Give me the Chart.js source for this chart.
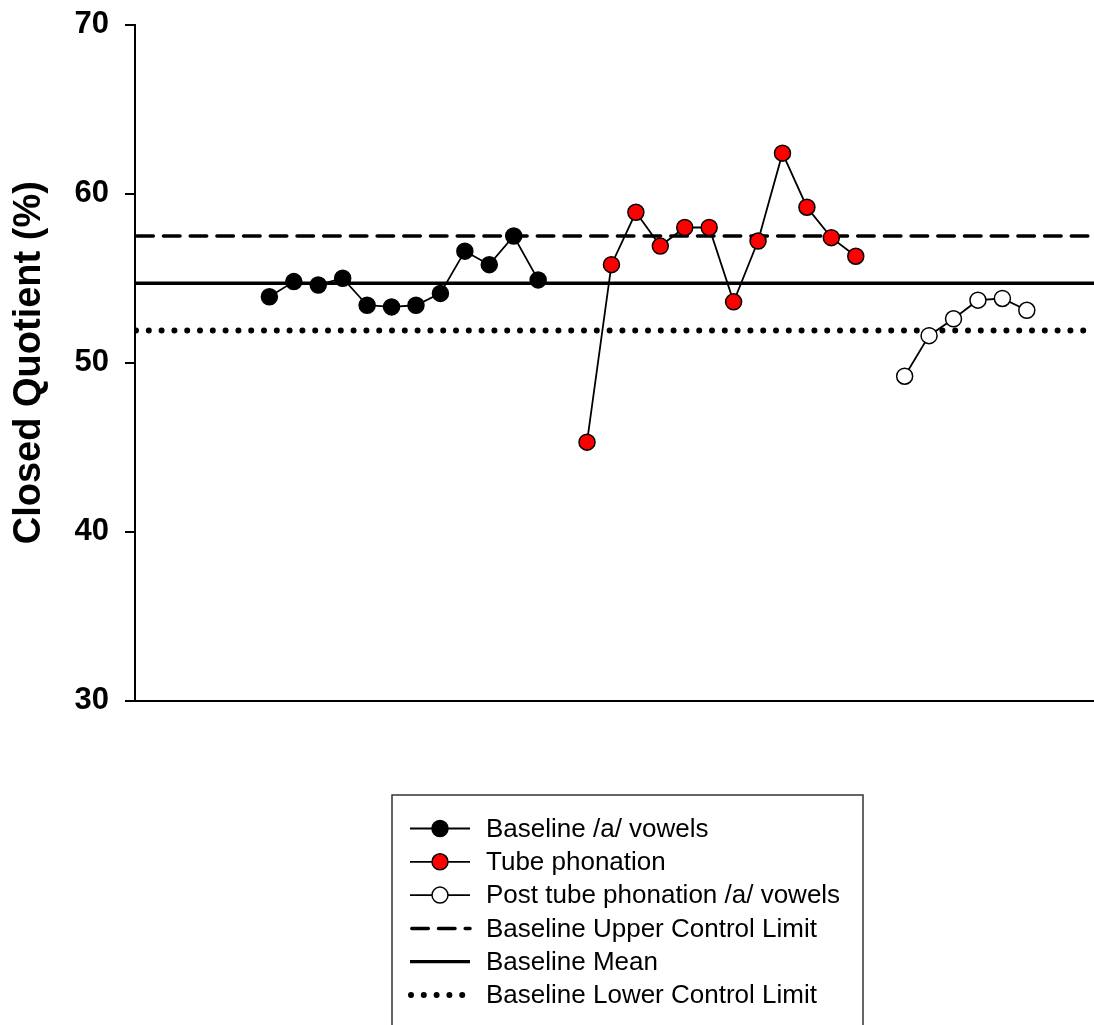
<!DOCTYPE html>
<html>
<head>
<meta charset="utf-8">
<script src="https://cdn.jsdelivr.net/npm/chart.js@4/dist/chart.umd.min.js"></script>
<style>
  html, body { margin: 0; padding: 0; background: #fff; }
  canvas { display: block; }
</style>
</head>
<body>
<canvas id="cq" width="1094" height="1025"></canvas>
<script>
// Session numbers (x) and closed quotient values (%) for each phase
const baselineSessions = [1, 2, 3, 4, 5, 6, 7, 8, 9, 10, 11, 12];
const baselineCQ = [53.9, 54.8, 54.6, 55.0, 53.4, 53.3, 53.4, 54.1, 56.6, 55.8, 57.5, 54.9];

const tubeSessions = [14, 15, 16, 17, 18, 19, 20, 21, 22, 23, 24, 25];
const tubeCQ = [45.3, 55.8, 58.9, 56.9, 58.0, 58.0, 53.6, 57.2, 62.4, 59.2, 57.4, 56.3];

const postSessions = [27, 28, 29, 30, 31, 32];
const postCQ = [49.2, 51.6, 52.6, 53.7, 53.8, 53.1];

// Baseline control statistics
const baselineUpperLimit = 57.5;
const baselineMean = 54.7;
const baselineLowerLimit = 51.9;

// Axis ticks
const yTicks = [30, 40, 50, 60, 70];

const FONT = 'Arial, "Liberation Sans", Helvetica, sans-serif';
const X_MIN = -4.5;
const X_MAX = 34.75;

function pairs(xs, ys) {
  return xs.map((x, i) => ({ x: x, y: ys[i] }));
}
function level(v) {
  return [{ x: X_MIN, y: v }, { x: X_MAX, y: v }];
}

function phaseSeries(label, xs, ys, fill) {
  return {
    label: label,
    data: pairs(xs, ys),
    borderColor: '#000',
    borderWidth: 1.8,
    pointRadius: 8,
    pointHoverRadius: 8,
    pointBorderWidth: 1.5,
    pointBorderColor: '#000',
    pointBackgroundColor: fill,
    tension: 0
  };
}

function limitLine(label, v, width, dash, cap, dashOffset) {
  return {
    label: label,
    data: level(v),
    borderColor: '#000',
    borderWidth: width,
    borderDash: dash,
    borderDashOffset: dashOffset || 0,
    borderCapStyle: cap,
    pointRadius: 0,
    pointHoverRadius: 0,
    tension: 0
  };
}

// Boxed legend below the plot: line sample with marker, then the label
const boxedLegend = {
  id: 'boxedLegend',
  afterDraw(chart) {
    const ctx = chart.ctx;
    const box = { left: 392, top: 795, right: 863, bottom: 1040 };
    ctx.save();
    ctx.strokeStyle = '#333';
    ctx.lineWidth = 1.5;
    ctx.strokeRect(box.left, box.top, box.right - box.left, box.bottom - box.top);

    const x0 = 410, x1 = 470, xm = 440, tx = 486;
    const rowY0 = 828.5, rowStep = 33.3;
    chart.data.datasets.forEach((ds, i) => {
      const y = rowY0 + i * rowStep;
      ctx.save();
      ctx.strokeStyle = ds.borderColor;
      ctx.lineWidth = ds.borderWidth;
      ctx.lineCap = ds.borderCapStyle || 'butt';
      ctx.setLineDash(ds.borderDash || []);
      ctx.lineDashOffset = ds.borderDashOffset || 0;
      ctx.beginPath();
      ctx.moveTo(x0, y);
      ctx.lineTo(x1, y);
      ctx.stroke();
      ctx.restore();
      if (ds.pointRadius > 0) {
        ctx.beginPath();
        ctx.arc(xm, y, ds.pointRadius, 0, Math.PI * 2);
        ctx.fillStyle = ds.pointBackgroundColor;
        ctx.fill();
        ctx.lineWidth = ds.pointBorderWidth;
        ctx.strokeStyle = ds.pointBorderColor;
        ctx.stroke();
      }
      ctx.fillStyle = '#000';
      ctx.font = '26px ' + FONT;
      ctx.textAlign = 'left';
      ctx.textBaseline = 'middle';
      ctx.fillText(ds.label, tx, y + 1);
    });
    ctx.restore();
  }
};

new Chart(document.getElementById('cq'), {
  type: 'line',
  data: {
    datasets: [
      phaseSeries('Baseline /a/ vowels', baselineSessions, baselineCQ, '#000'),
      phaseSeries('Tube phonation', tubeSessions, tubeCQ, '#ff0000'),
      phaseSeries('Post tube phonation /a/ vowels', postSessions, postCQ, '#fff'),
      limitLine('Baseline Upper Control Limit', baselineUpperLimit, 3.5, [16.5, 10.2], 'round', -1.8),
      limitLine('Baseline Mean', baselineMean, 3.3, [], 'butt'),
      limitLine('Baseline Lower Control Limit', baselineLowerLimit, 6, [0, 12.8], 'round', -1)
    ]
  },
  options: {
    responsive: false,
    animation: false,
    devicePixelRatio: 1,
    layout: { autoPadding: false, padding: { top: 24.7, right: 0, bottom: 324.3, left: 0 } },
    plugins: {
      legend: { display: false },
      tooltip: { enabled: false }
    },
    scales: {
      x: {
        type: 'linear',
        min: X_MIN,
        max: X_MAX,
        ticks: { display: false },
        grid: { display: false },
        border: { display: true, color: '#000', width: 2 },
        afterFit: s => { s.height = 0; s.paddingLeft = 0; s.paddingRight = 0; }
      },
      y: {
        type: 'linear',
        min: 30,
        max: 70,
        afterBuildTicks: s => { s.ticks = yTicks.map(v => ({ value: v })); },
        ticks: {
          color: '#000',
          padding: 16,
          font: { family: FONT, size: 31, weight: 'bold' }
        },
        grid: {
          drawOnChartArea: false,
          drawTicks: true,
          tickLength: 10,
          color: '#000',
          lineWidth: 2
        },
        border: { display: true, color: '#000', width: 2 },
        title: {
          display: true,
          text: 'Closed Quotient (%)',
          color: '#000',
          font: { family: FONT, size: 38, weight: 'bold' },
          padding: { top: 7, bottom: 0 }
        },
        afterFit: s => { s.width = 135; s.paddingTop = 0; s.paddingBottom = 0; }
      }
    }
  },
  plugins: [boxedLegend]
});
</script>
</body>
</html>
